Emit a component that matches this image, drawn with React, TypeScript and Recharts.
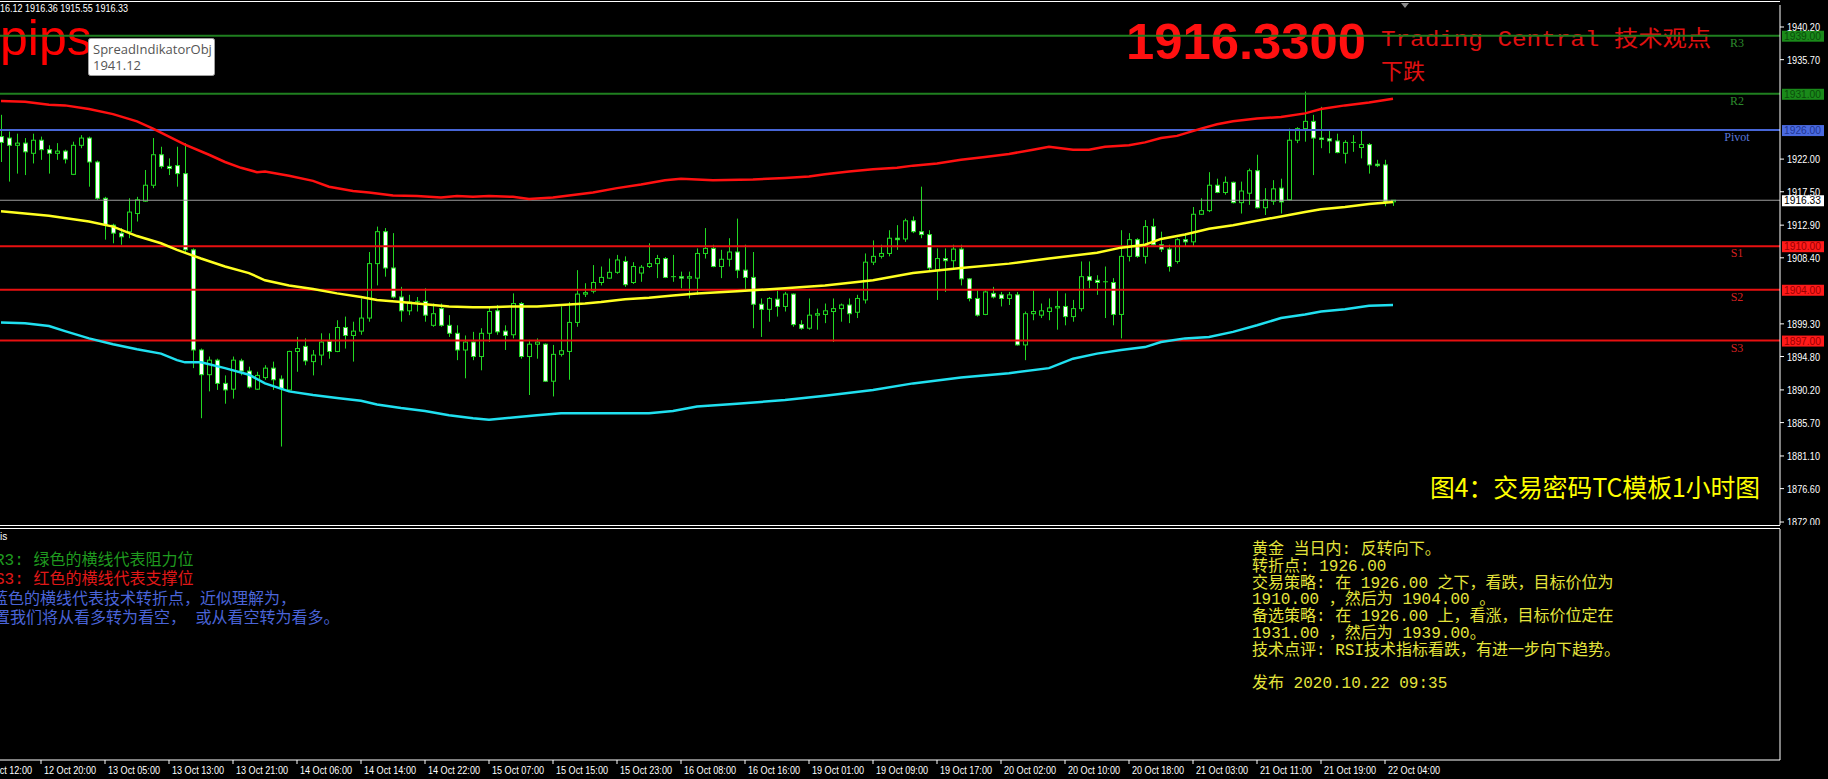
import React from 'react';
import { ComposedChart, Bar, Line, XAxis, YAxis, ReferenceLine } from 'recharts';

// hourly XAUUSD candles, 12 Oct 15:00 .. 22 Oct 05:00 (server time)
const candleOpen = [
  1925.1, 1924.9, 1923.9, 1924.2, 1922.8, 1924.6, 1923.3, 1922.8, 1923.1, 1919.9,
  1923.9, 1924.9, 1921.6, 1916.6, 1912.9, 1911.8, 1912.0, 1914.5, 1916.2, 1918.4,
  1922.6, 1921.0, 1921.1, 1920.0, 1909.5, 1895.7, 1892.3, 1894.3, 1891.1, 1890.3,
  1894.2, 1892.8, 1890.3, 1891.9, 1893.2, 1891.7, 1890.2, 1895.5, 1896.2, 1894.1,
  1895.0, 1896.9, 1895.5, 1898.8, 1897.7, 1898.3, 1900.1, 1907.6, 1912.0, 1907.0,
  1903.0, 1901.1, 1902.3, 1902.4, 1899.1, 1901.4, 1899.1, 1898.0, 1895.7, 1896.8,
  1894.8, 1898.0, 1901.1, 1898.3, 1897.8, 1902.1, 1894.8, 1896.5, 1896.5, 1891.4,
  1895.1, 1895.5, 1899.5, 1903.4, 1903.8, 1905.0, 1905.6, 1906.4, 1907.9, 1905.0,
  1906.3, 1907.2, 1907.6, 1908.3, 1905.7, 1905.8, 1905.6, 1905.6, 1909.0, 1909.7,
  1907.2, 1908.2, 1909.2, 1906.7, 1905.7, 1902.0, 1901.3, 1902.7, 1901.7, 1903.4,
  1899.2, 1898.7, 1900.5, 1900.6, 1901.0, 1901.4, 1901.9, 1900.9, 1902.6, 1907.8,
  1908.6, 1909.0, 1911.1, 1911.0, 1913.5, 1912.0, 1911.6, 1906.7, 1908.3, 1908.0,
  1909.6, 1905.5, 1902.8, 1900.6, 1903.5, 1903.3, 1902.8, 1903.3, 1896.4, 1900.7,
  1900.5, 1901.0, 1901.5, 1901.7, 1900.3, 1901.4, 1905.8, 1905.3, 1905.0, 1905.0,
  1900.6, 1908.6, 1910.9, 1908.6, 1912.7, 1910.2, 1909.6, 1907.9, 1910.9, 1910.6,
  1914.4, 1914.9, 1918.4, 1917.4, 1918.8, 1916.0, 1917.3, 1920.4, 1915.3, 1916.2,
  1918.0, 1916.4, 1924.6, 1926.2, 1927.2, 1924.9, 1924.8, 1924.5, 1922.8, 1924.3,
  1923.6, 1924.0, 1921.3, 1921.2, 1916.12,
];
const candleHigh = [
  1928.1, 1925.8, 1925.5, 1924.9, 1925.5, 1925.1, 1923.9, 1924.2, 1923.3, 1924.4,
  1925.3, 1925.1, 1921.8, 1916.8, 1913.1, 1912.5, 1916.6, 1916.8, 1920.5, 1924.9,
  1923.7, 1922.1, 1923.7, 1924.2, 1909.7, 1895.9, 1894.8, 1894.5, 1892.2, 1894.8,
  1894.5, 1893.4, 1892.7, 1893.6, 1894.1, 1892.2, 1895.6, 1897.5, 1897.3, 1895.7,
  1898.0, 1898.0, 1899.8, 1900.3, 1899.6, 1902.8, 1909.2, 1912.7, 1912.5, 1911.8,
  1904.4, 1903.3, 1903.0, 1904.2, 1902.1, 1902.1, 1900.5, 1899.1, 1897.7, 1898.2,
  1898.7, 1901.7, 1901.9, 1899.1, 1903.5, 1902.3, 1897.1, 1897.3, 1896.6, 1896.4,
  1901.7, 1902.3, 1906.7, 1904.9, 1907.4, 1907.2, 1908.3, 1908.8, 1908.6, 1907.8,
  1907.4, 1910.4, 1908.8, 1908.5, 1908.8, 1906.5, 1906.5, 1909.7, 1912.5, 1910.2,
  1909.5, 1911.1, 1913.8, 1910.2, 1909.2, 1902.8, 1903.0, 1903.9, 1903.7, 1903.5,
  1899.8, 1902.8, 1901.4, 1902.1, 1902.8, 1902.1, 1902.8, 1903.3, 1909.0, 1910.8,
  1910.2, 1912.2, 1912.9, 1913.8, 1914.1, 1918.2, 1912.2, 1909.7, 1909.7, 1910.2,
  1910.2, 1905.6, 1903.9, 1903.9, 1904.4, 1903.7, 1903.7, 1903.7, 1901.0, 1903.9,
  1902.1, 1902.8, 1903.9, 1903.5, 1902.6, 1907.9, 1907.9, 1906.0, 1907.2, 1905.6,
  1912.2, 1911.8, 1911.1, 1913.6, 1913.8, 1912.0, 1910.2, 1911.1, 1911.8, 1915.4,
  1916.6, 1920.2, 1919.3, 1919.6, 1918.9, 1918.9, 1920.7, 1922.6, 1918.0, 1919.1,
  1919.3, 1926.2, 1926.4, 1931.3, 1928.1, 1929.2, 1926.0, 1925.5, 1924.6, 1925.3,
  1926.0, 1924.2, 1921.9, 1921.9, 1916.36,
];
const candleLow = [
  1921.6, 1918.9, 1920.0, 1919.8, 1921.4, 1921.9, 1920.0, 1921.9, 1921.4, 1919.8,
  1923.5, 1918.2, 1916.4, 1910.9, 1910.4, 1910.2, 1911.1, 1913.4, 1916.1, 1918.0,
  1920.7, 1919.8, 1918.2, 1909.2, 1893.2, 1886.3, 1890.0, 1890.2, 1888.3, 1889.0,
  1892.2, 1890.4, 1890.2, 1891.6, 1890.2, 1882.4, 1890.0, 1892.7, 1893.6, 1892.2,
  1893.6, 1894.5, 1895.4, 1895.9, 1894.1, 1897.8, 1899.6, 1904.6, 1905.8, 1902.8,
  1899.6, 1900.5, 1901.0, 1899.6, 1898.9, 1898.9, 1897.5, 1894.3, 1891.8, 1894.3,
  1892.9, 1896.8, 1897.8, 1895.7, 1897.3, 1894.5, 1889.5, 1894.5, 1891.3, 1889.3,
  1894.8, 1891.6, 1898.9, 1903.0, 1903.5, 1904.6, 1905.5, 1906.2, 1904.4, 1904.8,
  1905.1, 1907.0, 1905.6, 1905.6, 1905.1, 1904.2, 1902.8, 1903.3, 1908.3, 1907.1,
  1905.6, 1907.2, 1905.6, 1904.0, 1898.7, 1897.5, 1899.6, 1900.3, 1901.0, 1898.9,
  1898.5, 1898.5, 1898.5, 1899.4, 1896.8, 1899.6, 1899.4, 1900.1, 1902.1, 1907.4,
  1908.3, 1908.6, 1909.5, 1910.6, 1911.8, 1911.1, 1906.7, 1902.6, 1903.7, 1906.9,
  1904.6, 1902.4, 1900.3, 1900.5, 1902.8, 1901.7, 1901.9, 1896.3, 1894.3, 1899.8,
  1900.1, 1899.8, 1898.5, 1899.1, 1899.6, 1901.0, 1904.2, 1903.3, 1900.1, 1899.1,
  1897.3, 1907.9, 1908.4, 1907.6, 1910.1, 1909.2, 1906.5, 1907.6, 1909.9, 1909.9,
  1914.3, 1914.7, 1917.3, 1917.1, 1915.9, 1914.5, 1915.7, 1915.2, 1914.3, 1915.7,
  1914.5, 1916.3, 1924.2, 1924.4, 1919.8, 1923.5, 1922.8, 1922.8, 1921.4, 1923.0,
  1922.1, 1920.0, 1920.9, 1915.5, 1915.55,
];
const candleClose = [
  1924.3, 1923.9, 1924.2, 1923.0, 1924.6, 1923.3, 1922.8, 1923.1, 1922.0, 1923.9,
  1924.9, 1921.6, 1916.6, 1913.0, 1911.8, 1911.3, 1914.7, 1916.4, 1918.4, 1922.6,
  1921.0, 1920.7, 1920.0, 1909.5, 1895.7, 1892.3, 1894.3, 1891.1, 1890.2, 1894.3,
  1892.8, 1890.6, 1892.2, 1893.2, 1891.6, 1890.4, 1895.5, 1895.9, 1894.2, 1895.0,
  1896.8, 1895.5, 1898.8, 1897.7, 1898.3, 1900.1, 1907.6, 1912.0, 1907.0, 1903.0,
  1901.1, 1902.3, 1902.4, 1900.5, 1900.7, 1899.1, 1898.0, 1895.7, 1896.8, 1894.8,
  1898.0, 1901.0, 1898.2, 1897.7, 1902.1, 1894.8, 1896.5, 1896.8, 1891.4, 1895.1,
  1895.6, 1899.5, 1903.4, 1903.6, 1905.0, 1905.7, 1906.4, 1908.1, 1904.7, 1907.2,
  1907.1, 1907.6, 1908.3, 1905.7, 1905.8, 1905.6, 1905.8, 1909.0, 1909.7, 1907.2,
  1908.2, 1909.2, 1906.7, 1905.7, 1902.0, 1901.3, 1902.8, 1901.7, 1903.4, 1899.2,
  1898.7, 1900.5, 1900.7, 1901.1, 1901.4, 1901.9, 1900.7, 1902.8, 1907.8, 1908.6,
  1909.0, 1911.1, 1910.9, 1913.5, 1912.0, 1911.6, 1907.0, 1908.3, 1908.0, 1909.6,
  1905.5, 1902.8, 1900.5, 1903.7, 1903.0, 1902.8, 1903.3, 1896.4, 1900.7, 1901.0,
  1901.1, 1901.5, 1901.7, 1900.3, 1901.4, 1905.8, 1905.3, 1905.0, 1905.1, 1900.6,
  1908.6, 1910.9, 1908.6, 1912.7, 1910.2, 1909.6, 1907.2, 1910.9, 1910.6, 1914.4,
  1914.9, 1918.4, 1917.4, 1918.8, 1916.0, 1917.6, 1920.4, 1915.3, 1916.4, 1917.9,
  1916.1, 1924.6, 1926.2, 1927.2, 1924.9, 1924.7, 1924.5, 1922.9, 1924.3, 1924.2,
  1924.0, 1921.2, 1921.1, 1916.1, 1916.33,
];

// [bar index, value]
const upperBand: [number, number][] = [
  [0, 1930.0], [3, 1929.9], [6, 1929.5], [8, 1929.4], [11, 1928.9], [14, 1928.2], [17, 1927.2],
  [19, 1926.2], [21, 1925.1], [23, 1924.0], [26, 1922.6], [28, 1921.6], [30, 1920.8], [32, 1920.2],
  [33, 1920.3], [36, 1919.7], [39, 1919.0], [41, 1918.2], [44, 1917.6], [46, 1917.4], [49, 1917.0],
  [52, 1916.9], [55, 1916.7], [57, 1916.9], [59, 1916.8], [61, 1916.9], [64, 1916.8], [66, 1916.5],
  [69, 1916.7], [71, 1917.0], [74, 1917.4], [77, 1918.0], [80, 1918.5], [83, 1919.1], [85, 1919.3],
  [87, 1919.2], [89, 1919.1], [94, 1919.2], [98, 1919.4], [101, 1919.6], [103, 1919.9], [106, 1920.3],
  [109, 1920.6], [112, 1920.8], [114, 1921.1], [117, 1921.4], [120, 1921.9], [123, 1922.3], [126, 1922.7],
  [129, 1923.3], [131, 1923.7], [134, 1923.3], [136, 1923.3], [138, 1923.7], [141, 1923.9], [143, 1924.3],
  [145, 1924.9], [147, 1925.2], [150, 1926.2], [152, 1926.8], [154, 1927.2], [157, 1927.6], [160, 1927.8],
  [163, 1928.3], [165, 1928.9], [168, 1929.4], [171, 1929.8], [174, 1930.3],
];
const middleBand: [number, number][] = [
  [0, 1914.8], [6, 1914.2], [11, 1913.4], [14, 1912.7], [17, 1911.4], [20, 1910.4], [22, 1909.5],
  [25, 1908.3], [28, 1907.2], [31, 1906.3], [33, 1905.3], [36, 1904.6], [39, 1904.1], [42, 1903.5],
  [45, 1903.0], [47, 1902.6], [50, 1902.3], [53, 1902.0], [56, 1901.7], [59, 1901.6], [61, 1901.6],
  [64, 1901.7], [67, 1901.7], [70, 1901.9], [73, 1902.1], [75, 1902.3], [78, 1902.7], [81, 1902.9],
  [84, 1903.2], [87, 1903.5], [92, 1903.8], [98, 1904.2], [103, 1904.6], [109, 1905.3], [114, 1906.3],
  [120, 1907.0], [126, 1907.6], [131, 1908.3], [137, 1909.1], [140, 1909.8], [143, 1910.2], [145, 1911.0],
  [148, 1911.6], [151, 1912.4], [154, 1912.9], [157, 1913.5], [160, 1914.1], [163, 1914.7], [165, 1915.1],
  [168, 1915.4], [171, 1915.8], [174, 1916.1],
];
const lowerBand: [number, number][] = [
  [0, 1899.5], [3, 1899.4], [6, 1899.0], [8, 1898.3], [11, 1897.3], [14, 1896.5], [17, 1895.8],
  [20, 1895.2], [22, 1894.3], [23, 1894.0], [25, 1894.0], [28, 1893.2], [31, 1892.3], [33, 1891.1],
  [36, 1890.0], [39, 1889.5], [42, 1889.1], [45, 1888.7], [47, 1888.2], [50, 1887.7], [53, 1887.3],
  [56, 1886.7], [59, 1886.3], [61, 1886.1], [64, 1886.4], [67, 1886.7], [70, 1887.0], [73, 1887.0],
  [78, 1887.0], [81, 1887.0], [84, 1887.3], [87, 1887.9], [92, 1888.3], [98, 1888.8], [103, 1889.4],
  [109, 1890.2], [114, 1891.1], [120, 1891.9], [126, 1892.5], [131, 1893.2], [134, 1894.5], [137, 1895.2],
  [140, 1895.7], [143, 1896.1], [145, 1896.8], [148, 1897.3], [151, 1897.5], [154, 1898.2], [157, 1899.1],
  [160, 1900.1], [163, 1900.6], [165, 1901.0], [168, 1901.3], [171, 1901.8], [174, 1901.9],
];

const levelNames = ['R3', 'R2', 'Pivot', 'S1', 'S2', 'S3'];
const levelPrices = [1939.0, 1931.0, 1926.0, 1910.0, 1904.0, 1897.0];
const bidPrice = 1916.33;

// 1903.80 / 1926.60 / 1931.10 sit under the level boxes in the original
const priceTicks = [
  1872.0, 1876.6, 1881.1, 1885.7, 1890.2, 1894.8, 1899.3,
  1908.4, 1912.9, 1917.5, 1922.0, 1935.7, 1940.2,
];

const timeTickBars = [5, 13, 21, 29, 37, 45, 53, 61, 69, 77, 85, 93, 101, 109, 117, 125, 133, 141, 149, 157, 165, 173];
const timeLabels = [
  '12 Oct 20:00', '13 Oct 05:00', '13 Oct 13:00', '13 Oct 21:00', '14 Oct 06:00', '14 Oct 14:00',
  '14 Oct 22:00', '15 Oct 07:00', '15 Oct 15:00', '15 Oct 23:00', '16 Oct 08:00', '16 Oct 16:00',
  '19 Oct 01:00', '19 Oct 09:00', '19 Oct 17:00', '20 Oct 02:00', '20 Oct 10:00', '20 Oct 18:00',
  '21 Oct 03:00', '21 Oct 11:00', '21 Oct 19:00', '22 Oct 04:00',
];

const legendLines = [
  'R3: 绿色的横线代表阻力位',
  'S3: 红色的横线代表支撑位',
  '蓝色的横线代表技术转折点，近似理解为，',
  '位置我们将从看多转为看空，  或从看空转为看多。',
];
const viewLines = [
  '黄金 当日内: 反转向下。',
  '转折点: 1926.00',
  '交易策略: 在 1926.00 之下，看跌，目标价位为',
  '1910.00 ，然后为 1904.00 。',
  '备选策略: 在 1926.00  上，看涨，目标价位定在',
  '1931.00 ，然后为 1939.00。',
  '技术点评: RSI技术指标看跌，有进一步向下趋势。',
  '',
  '发布 2020.10.22 09:35',
];

const candles = candleOpen.map((o, i) => ({
  i,
  o,
  h: candleHigh[i],
  l: candleLow[i],
  c: candleClose[i],
  range: [candleLow[i], candleHigh[i]],
}));
const toRows = (pts: [number, number][]) => pts.map(([i, v]) => ({ i, v }));

const X_DOMAIN: [number, number] = [-0.125, 222.375];
const AXIS_FONT = '"Liberation Sans", Arial, sans-serif';
const MONO = '"Liberation Mono", "Noto Sans CJK SC", monospace';
const CJK = '"Noto Sans CJK SC", sans-serif';
const WICK = '#22d822';

const levelStyle: Record<string, { line: string; text: string; box: string; boxText: string }> = {
  R3: { line: '#1f7f1f', text: '#2c8a2c', box: '#1a8a1a', boxText: '#0b4d0b' },
  R2: { line: '#1f7f1f', text: '#2c8a2c', box: '#1a8a1a', boxText: '#0b4d0b' },
  Pivot: { line: '#4766d6', text: '#5a78dc', box: '#4a6ae0', boxText: '#1f3592' },
  S1: { line: '#e81010', text: '#d42020', box: '#ff1a1a', boxText: '#9a0000' },
  S2: { line: '#e81010', text: '#d42020', box: '#ff1a1a', boxText: '#9a0000' },
  S3: { line: '#e81010', text: '#d42020', box: '#ff1a1a', boxText: '#9a0000' },
};

function Candle(props: any) {
  const { x, y, width, height, payload } = props;
  const { o, h, l, c } = payload;
  const top = Math.min(y, y + height);
  const span = Math.abs(height);
  const py = (v: number) => top + ((h - v) / (h - l || 1)) * span;
  const cx = Math.round(x + width / 2) + 0.5;
  const bTop = py(Math.max(o, c));
  const bBot = py(Math.min(o, c));
  const bear = c < o;
  return (
    <g>
      <line x1={cx} x2={cx} y1={top} y2={top + span} stroke={WICK} strokeWidth={1} />
      {bBot - bTop < 1 ? (
        <line x1={cx - 2.5} x2={cx + 2.5} y1={bTop} y2={bTop} stroke={WICK} strokeWidth={1} />
      ) : (
        <rect x={cx - 2} y={bTop} width={4} height={bBot - bTop} fill={bear ? '#ffffff' : '#000000'} stroke={WICK} strokeWidth={1} />
      )}
    </g>
  );
}

function levelLabel(name: string, price: number) {
  const st = levelStyle[name];
  return (p: any) => {
    const vb = p.viewBox;
    if (!vb) return null;
    const right = vb.x + vb.width;
    return (
      <g>
        <text x={right - 43} y={vb.y + 11} textAnchor="middle" fill={st.text} fontSize={12} fontFamily={'"Liberation Serif", serif'}>{name}</text>
        <rect x={right + 2} y={vb.y - 5} width={42} height={11} fill={st.box} />
        <text x={right + 4} y={vb.y + 4} fill={st.boxText} fontSize={10} fontFamily={AXIS_FONT} textLength={37} lengthAdjust="spacingAndGlyphs">{price.toFixed(2)}</text>
      </g>
    );
  };
}

function bidLabel(p: any) {
  const vb = p.viewBox;
  if (!vb) return null;
  const right = vb.x + vb.width;
  return (
    <g>
      <rect x={right + 2} y={vb.y - 5} width={42} height={11} fill="#ffffff" />
      <text x={right + 4} y={vb.y + 4} fill="#000" fontSize={10} fontFamily={AXIS_FONT} textLength={37} lengthAdjust="spacingAndGlyphs">{bidPrice.toFixed(2)}</text>
    </g>
  );
}

function PriceTick(p: any) {
  const { x, y, payload } = p;
  return (
    <text x={x + 1} y={y + 4} fill="#fff" fontSize={10.5} fontFamily={AXIS_FONT} textLength={33} lengthAdjust="spacingAndGlyphs">
      {Number(payload.value).toFixed(2)}
    </text>
  );
}

function TimeTick(p: any) {
  const { x, y, payload } = p;
  const k = timeTickBars.indexOf(payload.value);
  return (
    <text x={x + 3} y={y + 8} fill="#fff" fontSize={10} fontFamily={AXIS_FONT} textLength={52} lengthAdjust="spacingAndGlyphs">
      {timeLabels[k]}
    </text>
  );
}

function IndTick(p: any) {
  const { x, y, payload } = p;
  return (
    <text x={x + 3} y={payload.value === 1 ? y + 9 : y - 3} fill="#fff" fontSize={11} fontFamily={AXIS_FONT}>
      {payload.value}
    </text>
  );
}

const abs: React.CSSProperties = { position: 'absolute', left: 0, top: 0 };

export default function App() {
  return (
    <div style={{ position: 'fixed', left: 0, top: 0, width: 1828, height: 779, background: '#000', overflow: 'hidden' }}>
      {/* texts that sit under the chart lines */}
      <svg width={1828} height={779} style={abs}>
        <text x={0} y={12} fill="#fff" fontSize={10.5} fontFamily={AXIS_FONT} textLength={128} lengthAdjust="spacingAndGlyphs">16.12 1916.36 1915.55 1916.33</text>
        <text x={0} y={55} fill="#ff0000" fontSize={50} fontFamily={AXIS_FONT}>pips</text>
        <text x={1126} y={59} fill="#ff1010" fontSize={50} fontWeight="bold" fontFamily={AXIS_FONT} textLength={240} lengthAdjust="spacingAndGlyphs">1916.3300</text>
        <text x={1381} y={46} fill="#e01010" fontSize={22} fontFamily={'"Liberation Mono", "Noto Sans CJK SC", monospace'} textLength={330} lengthAdjust="spacingAndGlyphs">Trading Central 技术观点</text>
        <text x={1381} y={79} fill="#e01010" fontSize={22} fontFamily={CJK}>下跌</text>
        <text x={1430} y={497} fill="#ffff00" fontSize={25} fontFamily={CJK} textLength={330} lengthAdjust="spacingAndGlyphs">图4：交易密码TC模板1小时图</text>
        <text x={0} y={540} fill="#fff" fontSize={10} fontFamily={AXIS_FONT}>is</text>
        {legendLines.map((t, k) => (
          <text key={k} x={[-5, -5, -8, -22][k]} y={565 + k * 19.3} fill={['#1f9a1f', '#e01818', '#4a64d8', '#4a64d8'][k]} fontSize={16} fontFamily={MONO}>{t}</text>
        ))}
        {viewLines.map((t, k) => (
          <text key={k} x={1252} y={554 + k * 16.8} fill="#e4e43c" fontSize={16} fontFamily={MONO}>{t}</text>
        ))}
        <text x={-20} y={774} fill="#fff" fontSize={10} fontFamily={AXIS_FONT} textLength={52} lengthAdjust="spacingAndGlyphs">12 Oct 12:00</text>
      </svg>

      <div style={abs}>
        <ComposedChart width={1828} height={525} data={candles} margin={{ top: 5, right: 0, bottom: 0, left: 0 }}>
          <XAxis type="number" dataKey="i" domain={X_DOMAIN} allowDataOverflow hide />
          <YAxis
            orientation="right"
            domain={[1871.59, 1943.23]}
            allowDataOverflow
            ticks={priceTicks}
            interval={0}
            width={48}
            axisLine={{ stroke: '#fff' }}
            tickLine={{ stroke: '#fff' }}
            tickSize={4}
            tick={PriceTick}
          />
          {levelNames.map((n, k) => (
            <ReferenceLine key={n} y={levelPrices[k]} stroke={levelStyle[n].line} strokeWidth={2} label={levelLabel(n, levelPrices[k])} />
          ))}
          <ReferenceLine y={bidPrice} stroke="#9a9a9a" strokeWidth={1} label={bidLabel} />
          <Line data={toRows(upperBand)} dataKey="v" stroke="#ff1010" strokeWidth={2.5} dot={false} isAnimationActive={false} />
          <Line data={toRows(middleBand)} dataKey="v" stroke="#ffff20" strokeWidth={2.5} dot={false} isAnimationActive={false} />
          <Line data={toRows(lowerBand)} dataKey="v" stroke="#20e0f0" strokeWidth={2.5} dot={false} isAnimationActive={false} />
          <Bar dataKey="range" barSize={5} shape={Candle} isAnimationActive={false} />
        </ComposedChart>
      </div>

      <div style={{ ...abs, top: 525 }}>
        <ComposedChart width={1828} height={254} data={candles} margin={{ top: 4, right: 0, bottom: 0, left: 0 }}>
          <XAxis
            type="number"
            dataKey="i"
            domain={X_DOMAIN}
            allowDataOverflow
            ticks={timeTickBars}
            interval={0}
            height={19}
            axisLine={{ stroke: '#fff' }}
            tickLine={{ stroke: '#fff' }}
            tickSize={4}
            tick={TimeTick}
          />
          <YAxis
            orientation="right"
            domain={[0, 1]}
            ticks={[0, 1]}
            interval={0}
            width={48}
            axisLine={{ stroke: '#fff' }}
            tickLine={false}
            tick={IndTick}
          />
        </ComposedChart>
      </div>

      {/* frame and items drawn over the chart */}
      <svg width={1828} height={779} style={{ ...abs, pointerEvents: 'none' }}>
        <line x1={0} x2={1780} y1={1.5} y2={1.5} stroke="#fff" strokeWidth={1} />
        <line x1={0} x2={1780} y1={525.5} y2={525.5} stroke="#fff" strokeWidth={1} />
        <line x1={0} x2={1780} y1={528.5} y2={528.5} stroke="#fff" strokeWidth={1} />
        <polygon points="1401,3 1409,3 1405,8" fill="#8a8a8a" />
        <rect x={88.5} y={38.5} width={126} height={37} rx={2} fill="#ffffff" stroke="#a0a0a0" />
        <text x={93} y={54} fill="#555" fontSize={13} fontFamily={'"Open Sans", "Noto Sans", sans-serif'}>SpreadIndikatorObj</text>
        <text x={93} y={70} fill="#555" fontSize={13} fontFamily={'"Open Sans", "Noto Sans", sans-serif'}>1941.12</text>
      </svg>
    </div>
  );
}
